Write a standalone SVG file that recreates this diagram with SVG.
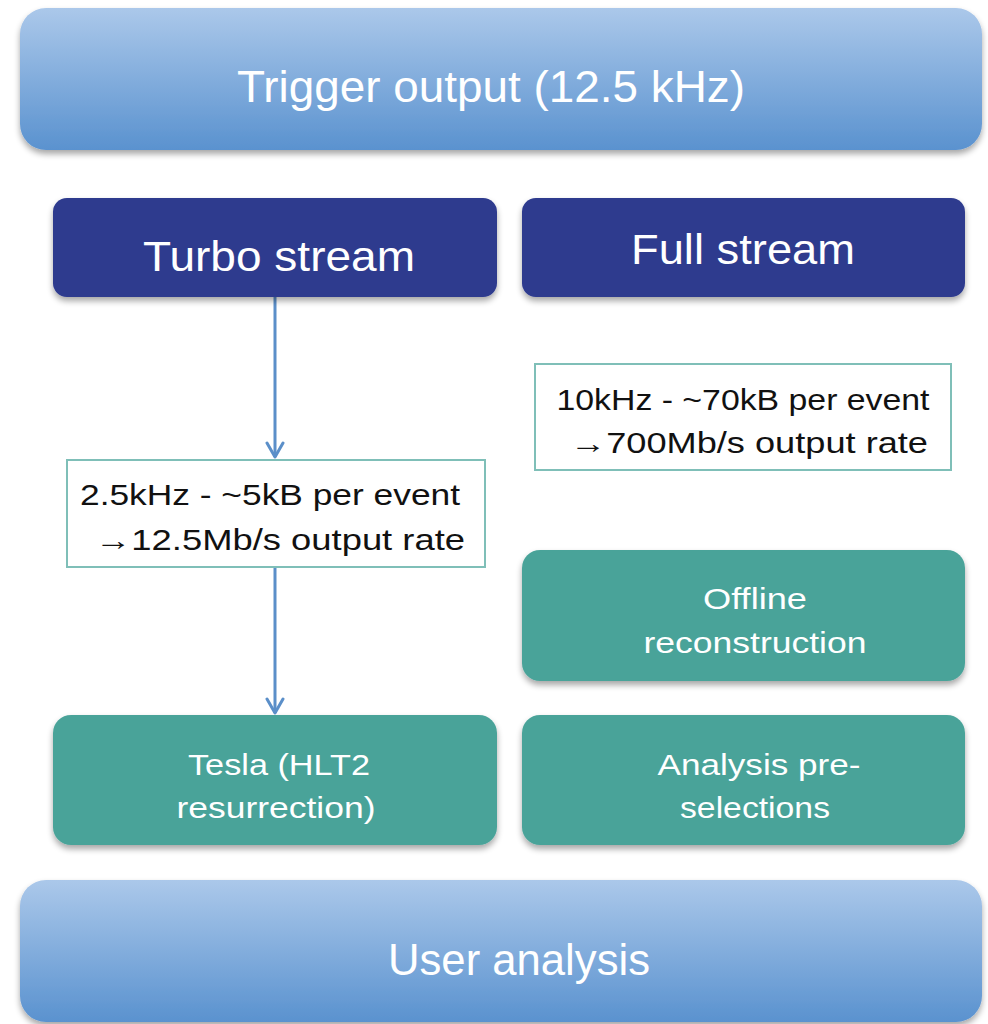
<svg xmlns="http://www.w3.org/2000/svg" width="988" height="1024" viewBox="0 0 988 1024">
<defs>
<linearGradient id="blueGrad" x1="0" y1="0" x2="0" y2="1">
<stop offset="0" stop-color="#abc8ea"/>
<stop offset="1" stop-color="#5a92cf"/>
</linearGradient>
<filter id="shadow" x="-5%" y="-10%" width="110%" height="125%">
<feGaussianBlur in="SourceAlpha" stdDeviation="3"/>
<feOffset dx="0" dy="4" result="b"/>
<feComponentTransfer><feFuncA type="linear" slope="0.35"/></feComponentTransfer>
<feMerge><feMergeNode/><feMergeNode in="SourceGraphic"/></feMerge>
</filter>
<marker id="arrow" viewBox="0 0 20 20" refX="17" refY="10" markerWidth="20" markerHeight="20" markerUnits="userSpaceOnUse" orient="auto">
<path d="M3,2 L17,10 L3,18" fill="none" stroke="#5b8fc9" stroke-width="3" stroke-linecap="round" stroke-linejoin="round"/>
</marker>
</defs>
<style>
.wide{fill:url(#blueGrad);filter:url(#shadow)}
.dark{fill:#2d3a8e;filter:url(#shadow)}
.teal{fill:#4aa399;filter:url(#shadow)}
.note{fill:#ffffff;stroke:#7fbfb8;stroke-width:2}
.wt{fill:#ffffff;font-family:"Liberation Sans",Arial,sans-serif;text-anchor:middle}
.bt{fill:#111111;font-family:"Liberation Sans",Arial,sans-serif;text-anchor:middle;font-size:29px}
.conn{stroke:#5b8fc9;stroke-width:3;fill:none}
</style>
<rect width="988" height="1024" fill="#ffffff"/>
<g id="connectors">
<line class="conn" x1="275" y1="297" x2="275" y2="457" marker-end="url(#arrow)"/>
<line class="conn" x1="275" y1="567" x2="275" y2="713" marker-end="url(#arrow)"/>
</g>
<g id="trigger">
<rect class="wide" x="20" y="8" width="962" height="142" rx="26"/>
<text class="wt" x="491" y="102" font-size="44" textLength="508" lengthAdjust="spacingAndGlyphs">Trigger output (12.5 kHz)</text>
</g>
<g id="turbo">
<rect class="dark" x="53" y="198" width="444" height="99" rx="14"/>
<text class="wt" x="279" y="271" font-size="42" textLength="272" lengthAdjust="spacingAndGlyphs">Turbo stream</text>
</g>
<g id="full">
<rect class="dark" x="522" y="198" width="443" height="99" rx="14"/>
<text class="wt" x="743" y="264" font-size="42" textLength="224" lengthAdjust="spacingAndGlyphs">Full stream</text>
</g>
<g id="turboRate">
<rect class="note" x="67" y="460" width="418" height="107"/>
<text class="bt" x="270" y="505" textLength="380" lengthAdjust="spacingAndGlyphs">2.5kHz - ~5kB per event</text>
<text class="bt" x="280" y="550" textLength="370" lengthAdjust="spacingAndGlyphs">→12.5Mb/s output rate</text>
</g>
<g id="fullRate">
<rect class="note" x="535" y="364" width="416" height="106"/>
<text class="bt" x="743" y="410" textLength="373" lengthAdjust="spacingAndGlyphs">10kHz - ~70kB per event</text>
<text class="bt" x="749" y="453" textLength="358" lengthAdjust="spacingAndGlyphs">→700Mb/s output rate</text>
</g>
<g id="offline">
<rect class="teal" x="522" y="550" width="443" height="131" rx="18"/>
<text class="wt" x="755" y="609" font-size="30" textLength="104" lengthAdjust="spacingAndGlyphs">Offline</text>
<text class="wt" x="755" y="653" font-size="30" textLength="223" lengthAdjust="spacingAndGlyphs">reconstruction</text>
</g>
<g id="tesla">
<rect class="teal" x="53" y="715" width="444" height="130" rx="18"/>
<text class="wt" x="279" y="775" font-size="30" textLength="182" lengthAdjust="spacingAndGlyphs">Tesla (HLT2</text>
<text class="wt" x="276" y="818" font-size="30" textLength="199" lengthAdjust="spacingAndGlyphs">resurrection)</text>
</g>
<g id="analysis">
<rect class="teal" x="522" y="715" width="443" height="130" rx="18"/>
<text class="wt" x="759" y="775" font-size="30" textLength="203" lengthAdjust="spacingAndGlyphs">Analysis pre-</text>
<text class="wt" x="755" y="818" font-size="30" textLength="150" lengthAdjust="spacingAndGlyphs">selections</text>
</g>
<g id="user">
<rect class="wide" x="20" y="880" width="962" height="142" rx="26"/>
<text class="wt" x="519" y="975" font-size="44" textLength="262" lengthAdjust="spacingAndGlyphs">User analysis</text>
</g>
</svg>
